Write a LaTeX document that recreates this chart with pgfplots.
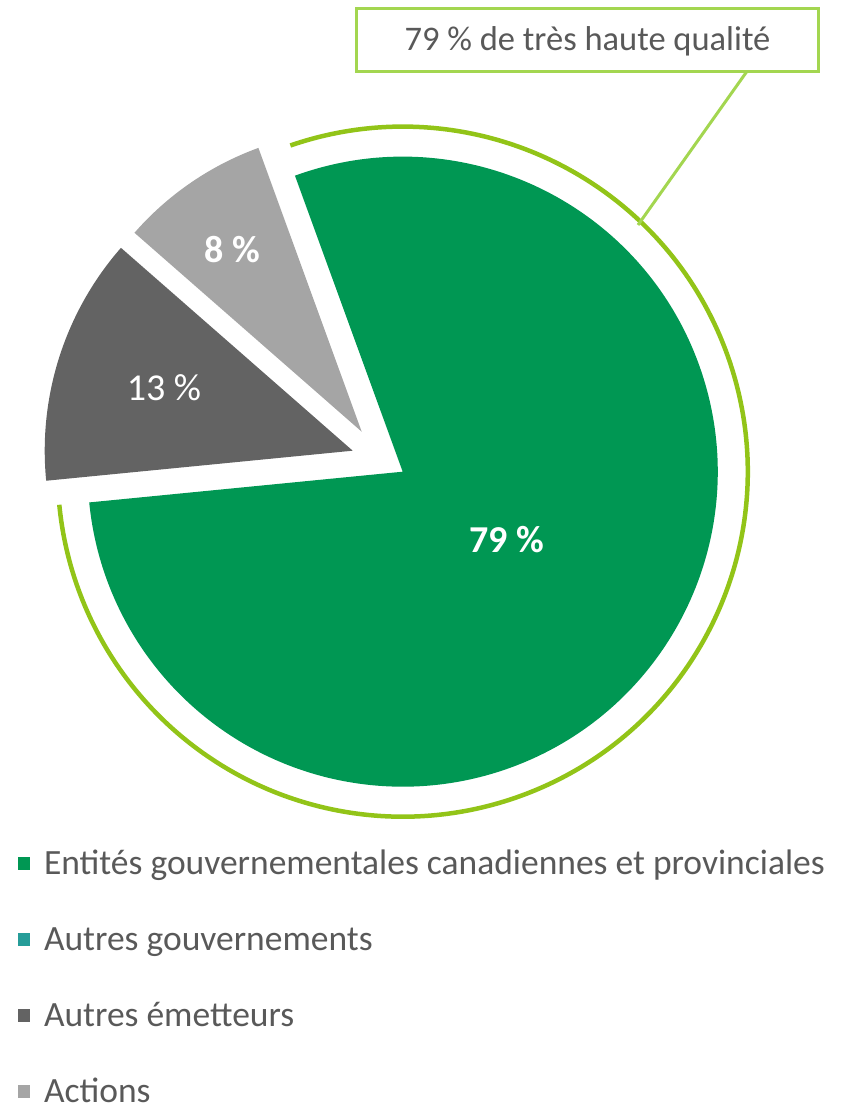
\documentclass[border=0pt]{standalone}
\usepackage{fontspec}
\setmainfont{Carlito}
\usepackage{pgfplots}
\usepackage{pgfplotstable}
\pgfplotsset{compat=1.18}

\definecolor{cgreen}{RGB}{0,151,83}
\definecolor{cteal}{RGB}{38,157,153}
\definecolor{cdark}{RGB}{99,99,99}
\definecolor{clight}{RGB}{165,165,165}
\definecolor{cring}{RGB}{146,196,24}
\definecolor{cbox}{RGB}{163,214,80}
\definecolor{ctext}{RGB}{89,89,89}

% share in %, explode offset (px, y up) and radius of each slice
\pgfplotstableread{
slice value dx dy radius
0 79 0 0 315
1 0 0 0 315
2 13 -50 21 308
3 8 -41 40 302
}\piedata

\pgfplotstablegetelem{0}{value}\of\piedata \pgfmathtruncatemacro\vA{\pgfplotsretval}
\pgfplotstablegetelem{1}{value}\of\piedata \pgfmathtruncatemacro\vB{\pgfplotsretval}
\pgfplotstablegetelem{2}{value}\of\piedata \pgfmathtruncatemacro\vC{\pgfplotsretval}
\pgfplotstablegetelem{3}{value}\of\piedata \pgfmathtruncatemacro\vD{\pgfplotsretval}
\pgfplotstablegetelem{0}{radius}\of\piedata \pgfmathsetmacro\rA{\pgfplotsretval}
\pgfplotstablegetelem{2}{radius}\of\piedata \pgfmathsetmacro\rC{\pgfplotsretval}
\pgfplotstablegetelem{3}{radius}\of\piedata \pgfmathsetmacro\rD{\pgfplotsretval}
\pgfplotstablegetelem{2}{dx}\of\piedata \pgfmathsetmacro\xC{402.7+\pgfplotsretval}
\pgfplotstablegetelem{2}{dy}\of\piedata \pgfmathsetmacro\yC{-471.7+\pgfplotsretval}
\pgfplotstablegetelem{3}{dx}\of\piedata \pgfmathsetmacro\xD{402.7+\pgfplotsretval}
\pgfplotstablegetelem{3}{dy}\of\piedata \pgfmathsetmacro\yD{-471.7+\pgfplotsretval}

% slices run clockwise from 110 degrees
\pgfmathsetmacro\sA{110}
\pgfmathsetmacro\eA{\sA-3.6*\vA}
\pgfmathsetmacro\eB{\eA-3.6*\vB}
\pgfmathsetmacro\eC{\eB-3.6*\vC}
\pgfmathsetmacro\eD{\eC-3.6*\vD}

\begin{document}
\begin{tikzpicture}
\begin{axis}[
  hide axis,
  scale only axis,
  width=853pt,
  height=1109pt,
  xmin=0, xmax=853,
  ymin=-1109, ymax=0,
  clip=false,
  legend cell align=left,
  legend image code/.code={\fill[#1, draw=none] (0pt,-6.5pt) rectangle (12pt,6.5pt);},
  legend style={
    draw=none, fill=none, inner sep=0pt, outer sep=0pt,
    at={(0.0211,0.2353)}, anchor=north west,
    font=\fontsize{35.5}{42}\selectfont, text=ctext,
    column sep=14pt, row sep=45pt,
    nodes={inner sep=0pt, text height=26pt, text depth=5pt},
  },
]
\addlegendimage{fill=cgreen}
\addlegendentry{Entités gouvernementales canadiennes et provinciales}
\addlegendimage{fill=cteal}
\addlegendentry{Autres gouvernements}
\addlegendimage{fill=cdark}
\addlegendentry{Autres émetteurs}
\addlegendimage{fill=clight}
\addlegendentry{Actions}

\fill[cgreen] (axis cs:402.7,-471.7) -- ++(\sA:\rA pt) arc[start angle=\sA, end angle=\eA, radius=\rA pt] -- cycle;
\fill[cdark] (axis cs:\xC,\yC) -- ++(\eB:\rC pt) arc[start angle=\eB, end angle=\eC, radius=\rC pt] -- cycle;
\fill[clight] (axis cs:\xD,\yD) -- ++(\eC:\rD pt) arc[start angle=\eC, end angle=\eD, radius=\rD pt] -- cycle;

\draw[cring, line width=4.5pt] (axis cs:402.7,-471.7) ++(109:345pt) arc[start angle=109, end angle=-174.5, radius=345pt];

\node[text=white, font=\fontsize{38}{44}\selectfont\bfseries] at (axis cs:507,-540) {\vA\ \%};
\node[text=white, font=\fontsize{38}{44}\selectfont] at (axis cs:164,-388) {\vC\ \%};
\node[text=white, font=\fontsize{38}{44}\selectfont\bfseries] at (axis cs:232,-250) {\vD\ \%};

\draw[cbox, line width=3pt] (axis cs:638,-225) -- (axis cs:746.7,-71.7);
\draw[cbox, line width=3.5pt, fill=white] (axis cs:356.7,-8.3) rectangle (axis cs:818.3,-71.7);
\node[text=ctext, font=\fontsize{34.5}{41}\selectfont] at (axis cs:587.5,-41) {\vA\ \% de très haute qualité};

\coordinate (bl) at (axis cs:0,-1109);
\coordinate (tr) at (axis cs:853,0);
\end{axis}
\pgfresetboundingbox
\useasboundingbox (bl) rectangle (tr);
\end{tikzpicture}
\end{document}
